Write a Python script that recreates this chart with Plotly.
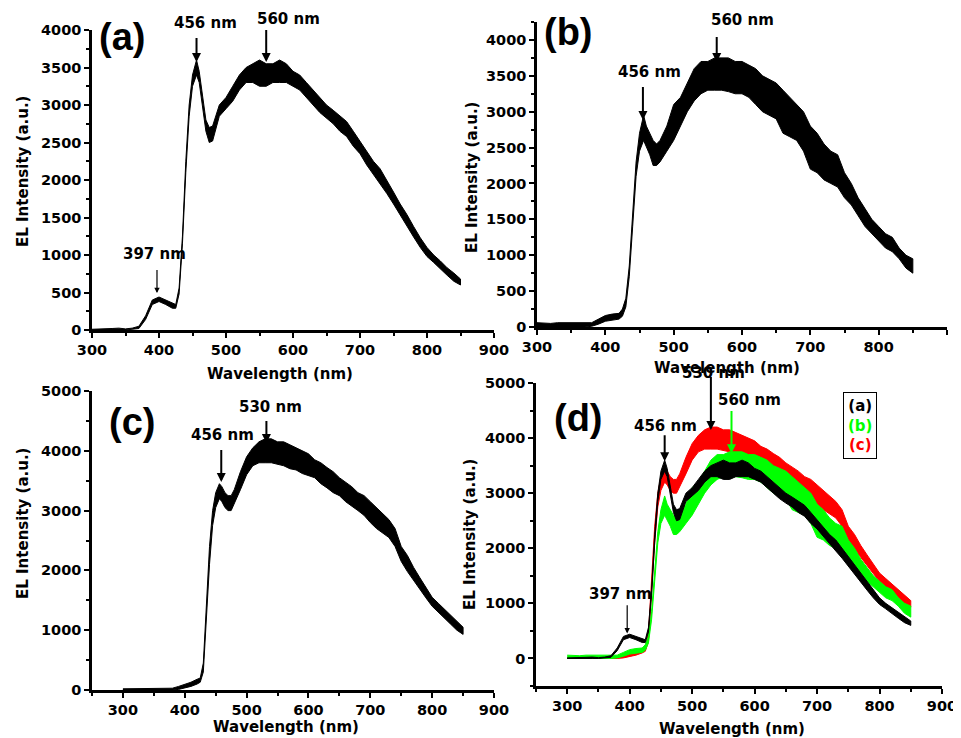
import plotly.graph_objects as go

# wavelength grid (nm) used for the read-off envelopes
wl = [300, 310, 320, 330, 340, 350, 360, 370, 380, 390, 400, 410, 420, 425,
      430, 435, 440, 445, 450, 456, 460, 465, 470, 475, 480, 490, 500, 510,
      520, 530, 540, 550, 560, 570, 580, 590, 600, 610, 620, 630, 640, 650,
      660, 670, 680, 690, 700, 710, 720, 730, 740, 750, 760, 770, 780, 790,
      800, 810, 820, 830, 840, 850]

# spectrum (a): lower / upper edge of the noisy trace
a_low = [0, 0, 0, 0, 0, 0, 5, 20, 140, 340, 380, 340, 290, 290,
         480, 1150, 2100, 2850, 3250, 3400, 3300, 3000, 2650, 2500, 2520, 2850, 2950, 3050,
         3200, 3300, 3300, 3250, 3250, 3300, 3300, 3300, 3250, 3200, 3100, 3000, 2900, 2820,
         2750, 2650, 2580, 2450, 2350, 2200, 2080, 1950, 1820, 1680, 1530, 1390, 1240, 1100,
         980, 900, 820, 730, 650, 600]
a_high = [10, 10, 15, 20, 25, 15, 25, 50, 190, 400, 440, 400, 350, 340,
          560, 1250, 2250, 3000, 3400, 3600, 3450, 3150, 2800, 2700, 2720, 3000, 3100, 3250,
          3400, 3500, 3550, 3600, 3550, 3550, 3600, 3550, 3450, 3400, 3300, 3200, 3100, 3000,
          2930, 2850, 2780, 2650, 2520, 2380, 2250, 2150, 2000, 1840, 1680, 1540, 1380, 1230,
          1100, 1000, 920, 830, 760, 680]

# spectrum (b)
b_low = [0, 0, 0, 0, 0, 0, 0, 0, 10, 40, 80, 100, 110, 150,
         280, 700, 1400, 2100, 2450, 2600, 2500, 2400, 2250, 2250, 2300, 2450, 2600, 2800,
         3000, 3150, 3250, 3300, 3300, 3300, 3280, 3250, 3250, 3200, 3100, 3000, 2950, 2900,
         2700, 2650, 2600, 2450, 2200, 2150, 2050, 2000, 1950, 1800, 1700, 1550, 1400, 1300,
         1200, 1100, 1050, 950, 820, 750]
b_high = [60, 50, 50, 60, 60, 50, 50, 50, 60, 110, 160, 180, 190, 250,
          400, 850, 1600, 2300, 2700, 2950, 2800, 2700, 2600, 2550, 2600, 2800, 3100, 3200,
          3400, 3600, 3700, 3700, 3750, 3750, 3750, 3700, 3700, 3650, 3600, 3500, 3450, 3400,
          3300, 3200, 3100, 3000, 2800, 2700, 2550, 2450, 2400, 2150, 2000, 1800, 1650, 1500,
          1400, 1300, 1250, 1100, 1000, 950]

# spectrum (c)
c_low = [0, 0, 0, 0, 0, 0, 0, 0, 0, 10, 30, 60, 100, 130,
         300, 1100, 2100, 2750, 3050, 3200, 3150, 3050, 3000, 3000, 3100, 3350, 3600, 3750,
         3800, 3800, 3800, 3780, 3750, 3700, 3680, 3620, 3580, 3550, 3450, 3380, 3300, 3250,
         3150, 3080, 3000, 2920, 2800, 2700, 2620, 2550, 2400, 2150, 1980, 1830, 1680, 1540,
         1400, 1300, 1200, 1100, 1000, 930]
c_high = [20, 20, 20, 20, 20, 20, 20, 20, 30, 60, 90, 130, 180, 200,
          450, 1400, 2400, 3000, 3300, 3450, 3400, 3300, 3250, 3250, 3350, 3650, 3900, 4050,
          4150, 4200, 4200, 4150, 4150, 4100, 4050, 4000, 3950, 3850, 3800, 3720, 3650, 3550,
          3480, 3400, 3300, 3250, 3150, 3050, 2950, 2850, 2700, 2400, 2250, 2050, 1880, 1720,
          1550, 1450, 1350, 1250, 1150, 1050]

BLACK, GREEN, RED = "#000000", "#00ff00", "#ff0000"
FONT = "DejaVu Sans, Verdana, sans-serif"
BIG = "Liberation Sans, Arial, sans-serif"

# the page body has an 8px margin, so the figure is made smaller and
# window pixel positions are shifted by that amount
OFF = 8
W, H = 961 - OFF, 738 - OFF


def fx(p):
    return (p - OFF) / W


def fy(p):
    return 1 - (p - OFF) / H


fig = go.Figure()


def band(lo, hi, color, n):
    fig.add_trace(go.Scatter(
        x=wl + wl[::-1], y=hi + lo[::-1], mode="lines", fill="toself",
        fillcolor=color, line=dict(color=color, width=1),
        xaxis="x" + n, yaxis="y" + n, hoverinfo="skip", showlegend=False))


band(a_low, a_high, BLACK, "")
band(b_low, b_high, BLACK, "2")
band(c_low, c_high, BLACK, "3")
band(c_low, c_high, RED, "4")
band(b_low, b_high, GREEN, "4")
band(a_low, a_high, BLACK, "4")

tickfont = dict(family=FONT, size=14.5, color="black", weight="bold")


def axis(dom, rng, anchor, dt):
    return dict(domain=dom, range=rng, anchor=anchor, automargin=False,
                showline=True, linewidth=2.5, linecolor="black",
                ticks="outside", ticklen=5, tickwidth=2, tickcolor="black",
                tick0=0, dtick=dt, showgrid=False, zeroline=False, tickfont=tickfont,
                minor=dict(dtick=dt / 2, ticks="outside", ticklen=3, tickwidth=2,
                           tickcolor="black", showgrid=False))


fig.update_layout(
    xaxis=axis([fx(92), fx(494)], [300, 900], "y", 100),
    yaxis=axis([fy(330), fy(30)], [0, 4000], "x", 500),
    xaxis2=axis([fx(537), fx(947)], [300, 900], "y2", 100),
    yaxis2=axis([fy(327), fy(22)], [0, 4250], "x2", 500),
    xaxis3=axis([fx(92), fx(494)], [250, 900], "y3", 100),
    yaxis3=axis([fy(690), fy(391)], [0, 5000], "x3", 1000),
    xaxis4=axis([fx(536), fx(942)], [250, 900], "y4", 100),
    yaxis4=axis([fy(686), fy(383)], [-500, 5000], "x4", 1000),
)

ann = []


def label(px, py, text, size=15, family=FONT, angle=0):
    ann.append(dict(xref="paper", yref="paper", x=fx(px), y=fy(py), text=text,
                    xanchor="center", yanchor="middle", showarrow=False, textangle=angle,
                    font=dict(family=family, size=size, color="black", weight="bold")))


def arrow(n, x, y0, y1, color="black", width=2):
    ann.append(dict(xref="x" + n, yref="y" + n, axref="x" + n, ayref="y" + n,
                    x=x, y=y1, ax=x, ay=y0, text=" ", font=dict(size=1),
                    showarrow=True, arrowhead=2, arrowsize=0.9, arrowwidth=width,
                    arrowcolor=color, standoff=0, startstandoff=0))


# panel (a)
label(122, 37, "(a)", 38, BIG)
label(205, 23, "456 nm")
arrow("", 456, 3920, 3573)
label(288, 19, "560 nm")
arrow("", 560, 4027, 3573)
label(154, 254, "397 nm")
arrow("", 397, 827, 493, width=1.2)

# panel (b)
label(568, 32, "(b)", 38, BIG)
label(742, 20, "560 nm")
arrow("2", 563, 4070, 3693)
label(649, 72, "456 nm")
arrow("2", 455, 3373, 2885)

# panel (c)
label(132, 422, "(c)", 38, BIG)
label(222, 435, "456 nm")
arrow("3", 459, 4047, 3478)
label(270, 407, "530 nm")
arrow("3", 532, 4532, 4130)

# panel (d)
label(578, 418, "(d)", 38, BIG)
label(665, 426, "456 nm")
arrow("4", 456, 4090, 3580)
label(713, 373, "530 nm")
arrow("4", 530, 5145, 4145)
label(749, 400, "560 nm")
arrow("4", 563, 4527, 3727, color=GREEN)
label(620, 594, "397 nm")
arrow("4", 396, 1000, 455, width=1.2)

# axis titles
for x, y in [(23, 172), (472, 178), (23, 524), (470, 535)]:
    label(x, y, "EL Intensity (a.u.)", angle=-90)
for x, y in [(280, 374), (727, 368), (286, 727), (732, 729)]:
    label(x, y, "Wavelength (nm)")

# legend box in (d)
ann.append(dict(xref="paper", yref="paper", x=fx(860), y=fy(425),
                xanchor="center", yanchor="middle",
                text="<span style='color:#000000'>(a)</span><br>"
                     "<span style='color:#00ff00'>(b)</span><br>"
                     "<span style='color:#ff0000'>(c)</span>",
                showarrow=False, bordercolor="black", borderwidth=1, borderpad=4,
                font=dict(family=FONT, size=15, weight="bold")))

fig.update_layout(
    annotations=ann,
    width=W, height=H,
    margin=dict(l=0, r=0, t=0, b=0),
    plot_bgcolor="white", paper_bgcolor="white",
    showlegend=False,
)

fig.write_html("out.html")
